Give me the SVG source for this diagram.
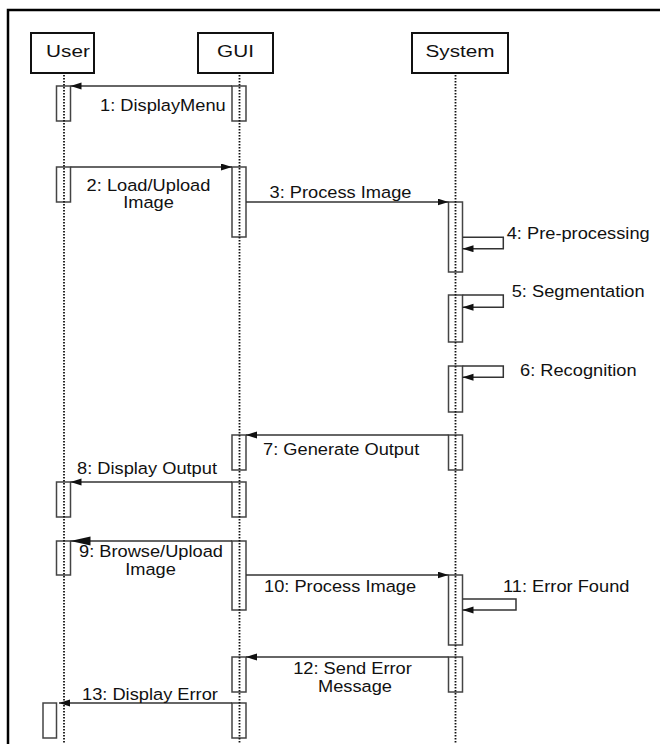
<svg xmlns="http://www.w3.org/2000/svg" width="660" height="744" viewBox="0 0 660 744">
<style>
.frame{fill:none;stroke:#000;stroke-width:2.5}
.head{fill:#fff;stroke:#111;stroke-width:2}
.ht{font-family:"Liberation Sans",Arial,sans-serif;font-size:17px;fill:#111;text-anchor:middle}
.life{stroke:#111;stroke-width:1.8;stroke-dasharray:1.5 1.5;fill:none}
.bar{fill:#fff;stroke:#444;stroke-width:1.5}
.msg{stroke:#333;stroke-width:1.5;fill:none}
.mt{font-family:"Liberation Sans",Arial,sans-serif;font-size:16.3px;fill:#111}
.mid{text-anchor:middle}
</style>
<defs>
<marker id="ah" markerUnits="userSpaceOnUse" markerWidth="12" markerHeight="8" refX="11" refY="3.5" orient="auto"><path d="M0,0 L11,3.5 L0,7 z" fill="#111"/></marker>
<marker id="ahBig" markerUnits="userSpaceOnUse" markerWidth="21" markerHeight="10" refX="20" refY="4.5" orient="auto"><path d="M0,0 L20,4.5 L0,9 z" fill="#111"/></marker>
</defs>
<rect width="660" height="744" fill="#fff"/>
<path class="frame" d="M8,744 L8,10 L660,10"/>

<g id="user">
<rect class="head" x="31" y="33" width="63" height="40"/>
<text class="ht" transform="translate(68,57.3) scale(1.22,1)">User</text>
</g>
<g id="gui">
<rect class="head" x="198" y="33" width="75" height="40"/>
<text class="ht" transform="translate(235.5,57.3) scale(1.22,1)">GUI</text>
</g>
<g id="system">
<rect class="head" x="412" y="33" width="96" height="40"/>
<text class="ht" transform="translate(460,57) scale(1.22,1)">System</text>
</g>

<g id="activations">
<rect class="bar" x="56.5" y="86" width="14" height="35"/>
<rect class="bar" x="232" y="86" width="14" height="35"/>
<rect class="bar" x="56.5" y="167" width="14" height="35"/>
<rect class="bar" x="232" y="167" width="14" height="70"/>
<rect class="bar" x="448.5" y="202" width="14" height="70"/>
<rect class="bar" x="448.5" y="295" width="14" height="47"/>
<rect class="bar" x="448.5" y="366" width="14" height="46"/>
<rect class="bar" x="232" y="435" width="14" height="35"/>
<rect class="bar" x="448.5" y="435" width="14" height="35"/>
<rect class="bar" x="56.5" y="482" width="14" height="35"/>
<rect class="bar" x="232" y="482" width="14" height="35"/>
<rect class="bar" x="56.5" y="541" width="14" height="34"/>
<rect class="bar" x="232" y="541" width="14" height="69"/>
<rect class="bar" x="448.5" y="575" width="14" height="70"/>
<rect class="bar" x="232" y="657" width="14" height="35"/>
<rect class="bar" x="448.5" y="657" width="14" height="35"/>
<rect class="bar" x="43" y="703" width="13.5" height="35"/>
<rect class="bar" x="232" y="703" width="14" height="35"/>
</g>

<g id="lifelines">
<line class="life" x1="64" y1="75" x2="64" y2="744"/>
<line class="life" x1="239.5" y1="75" x2="239.5" y2="744"/>
<line class="life" x1="455.5" y1="75" x2="455.5" y2="744"/>
</g>

<g id="connectors">
<path class="msg" d="M232,86 L70.5,86" marker-end="url(#ah)"/>
<path class="msg" d="M70.5,167 L232,167" marker-end="url(#ah)"/>
<path class="msg" d="M246,202 L448.5,202" marker-end="url(#ah)"/>
<path class="msg" d="M462.5,237.3 L503.3,237.3 L503.3,248.7 L462.5,248.7" marker-end="url(#ah)"/>
<path class="msg" d="M462.5,295 L503.3,295 L503.3,307.3 L462.5,307.3" marker-end="url(#ah)"/>
<path class="msg" d="M462.5,366 L503.3,366 L503.3,377.3 L462.5,377.3" marker-end="url(#ah)"/>
<path class="msg" d="M448.5,435 L246,435" marker-end="url(#ah)"/>
<path class="msg" d="M232,482 L70.5,482" marker-end="url(#ah)"/>
<path class="msg" d="M232,541 L70.5,541" marker-end="url(#ahBig)"/>
<path class="msg" d="M246,575 L448.5,575" marker-end="url(#ah)"/>
<path class="msg" d="M462.5,599 L516,599 L516,610 L462.5,610" marker-end="url(#ah)"/>
<path class="msg" d="M448.5,657 L246,657" marker-end="url(#ah)"/>
<path class="msg" d="M232,703 L59,703" marker-end="url(#ah)"/>
</g>

<g id="labels">
<text class="mt" transform="translate(100,111) scale(1.12,1)">1: DisplayMenu</text>
<text class="mt mid" transform="translate(148.5,191) scale(1.12,1)">2: Load/Upload</text>
<text class="mt mid" transform="translate(148.5,208.4) scale(1.12,1)">Image</text>
<text class="mt mid" transform="translate(340.5,198) scale(1.12,1)">3: Process Image</text>
<text class="mt" transform="translate(506.7,239.3) scale(1.12,1)">4: Pre-processing</text>
<text class="mt" transform="translate(511.7,297.3) scale(1.12,1)">5: Segmentation</text>
<text class="mt" transform="translate(520,376) scale(1.12,1)">6: Recognition</text>
<text class="mt" transform="translate(263,455) scale(1.12,1)">7: Generate Output</text>
<text class="mt" transform="translate(77,474.3) scale(1.12,1)">8: Display Output</text>
<text class="mt mid" transform="translate(151,557.3) scale(1.12,1)">9: Browse/Upload</text>
<text class="mt mid" transform="translate(150.5,575) scale(1.12,1)">Image</text>
<text class="mt" transform="translate(264,591.7) scale(1.12,1)">10: Process Image</text>
<text class="mt" transform="translate(503,591.7) scale(1.12,1)">11: Error Found</text>
<text class="mt mid" transform="translate(352.5,674) scale(1.12,1)">12: Send Error</text>
<text class="mt mid" transform="translate(355,692) scale(1.12,1)">Message</text>
<text class="mt" transform="translate(82,700) scale(1.12,1)">13: Display Error</text>
</g>
</svg>
